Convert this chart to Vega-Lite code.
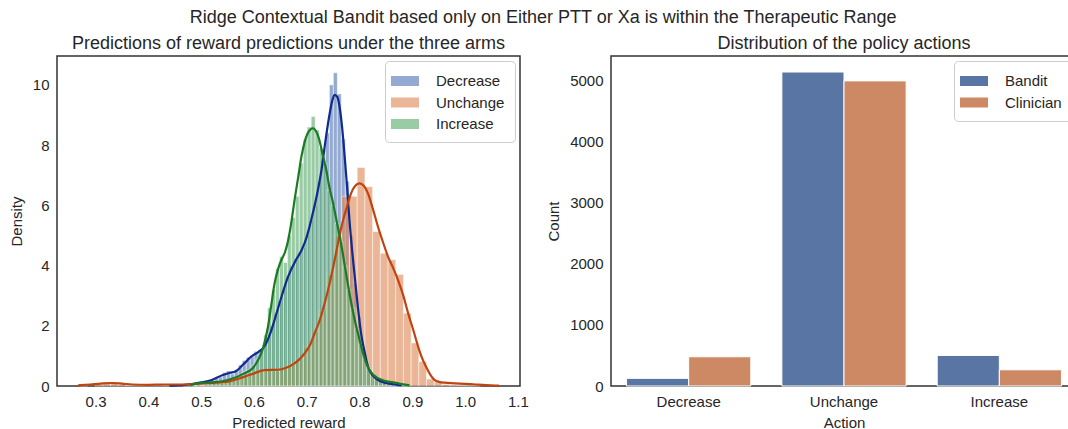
{
"$schema": "https://vega.github.io/schema/vega-lite/v6.json",
"background": "white",
"padding": {"left": 8, "top": 9, "right": 0, "bottom": 0},
"config": {
  "font": "Liberation Sans",
  "view": {"stroke": "#333333", "strokeWidth": 1.5},
  "axis": {"domain": false, "ticks": false, "tickSize": 0, "grid": false, "labelFont": "Liberation Sans", "labelFontSize": 15, "labelColor": "#262626", "titleFont": "Liberation Sans", "titleFontSize": 15, "titleFontWeight": "normal", "titleColor": "#262626", "labelPadding": 8, "titlePadding": 8},
  "axisX": {"titlePadding": 6},
  "title": {"font": "Liberation Sans", "fontSize": 18, "fontWeight": "normal", "color": "#262626"},
  "legend": {"title": null, "orient": "top-right", "offset": 5, "fillColor": "white", "strokeColor": "#cccccc", "cornerRadius": 4, "padding": 10, "symbolType": "M-1.4,-0.5H1.4V0.5H-1.4Z", "symbolSize": 400, "symbolStrokeWidth": 0, "labelFont": "Liberation Sans", "labelFontSize": 15, "labelColor": "#262626", "labelOffset": 21, "rowPadding": 3.5}
},
"title": {"text": "Ridge Contextual Bandit based only on Either PTT or Xa is within the Therapeutic Range", "anchor": "middle", "offset": 7},
"datasets": {
  "hist": [
{"arm":"Decrease","x0":0.4505,"x1":0.4580,"density":0.02},
{"arm":"Decrease","x0":0.4655,"x1":0.4730,"density":0.04},
{"arm":"Decrease","x0":0.4730,"x1":0.4805,"density":0.02},
{"arm":"Decrease","x0":0.4805,"x1":0.4880,"density":0.05},
{"arm":"Decrease","x0":0.4880,"x1":0.4955,"density":0.08},
{"arm":"Decrease","x0":0.4955,"x1":0.5030,"density":0.10},
{"arm":"Decrease","x0":0.5030,"x1":0.5105,"density":0.12},
{"arm":"Decrease","x0":0.5105,"x1":0.5180,"density":0.15},
{"arm":"Decrease","x0":0.5180,"x1":0.5255,"density":0.20},
{"arm":"Decrease","x0":0.5255,"x1":0.5330,"density":0.25},
{"arm":"Decrease","x0":0.5330,"x1":0.5405,"density":0.30},
{"arm":"Decrease","x0":0.5405,"x1":0.5480,"density":0.45},
{"arm":"Decrease","x0":0.5480,"x1":0.5555,"density":0.50},
{"arm":"Decrease","x0":0.5555,"x1":0.5630,"density":0.40},
{"arm":"Decrease","x0":0.5630,"x1":0.5705,"density":0.55},
{"arm":"Decrease","x0":0.5705,"x1":0.5780,"density":0.70},
{"arm":"Decrease","x0":0.5780,"x1":0.5855,"density":0.85},
{"arm":"Decrease","x0":0.5855,"x1":0.5930,"density":0.95},
{"arm":"Decrease","x0":0.5930,"x1":0.6005,"density":1.00},
{"arm":"Decrease","x0":0.6005,"x1":0.6080,"density":1.15},
{"arm":"Decrease","x0":0.6080,"x1":0.6155,"density":1.20},
{"arm":"Decrease","x0":0.6155,"x1":0.6230,"density":1.35},
{"arm":"Decrease","x0":0.6230,"x1":0.6305,"density":1.60},
{"arm":"Decrease","x0":0.6305,"x1":0.6380,"density":2.00},
{"arm":"Decrease","x0":0.6380,"x1":0.6455,"density":2.40},
{"arm":"Decrease","x0":0.6455,"x1":0.6530,"density":2.80},
{"arm":"Decrease","x0":0.6530,"x1":0.6605,"density":3.20},
{"arm":"Decrease","x0":0.6605,"x1":0.6680,"density":3.60},
{"arm":"Decrease","x0":0.6680,"x1":0.6755,"density":4.00},
{"arm":"Decrease","x0":0.6755,"x1":0.6830,"density":4.20},
{"arm":"Decrease","x0":0.6830,"x1":0.6905,"density":4.40},
{"arm":"Decrease","x0":0.6905,"x1":0.6980,"density":4.60},
{"arm":"Decrease","x0":0.6980,"x1":0.7055,"density":5.00},
{"arm":"Decrease","x0":0.7055,"x1":0.7130,"density":5.50},
{"arm":"Decrease","x0":0.7130,"x1":0.7205,"density":6.00},
{"arm":"Decrease","x0":0.7205,"x1":0.7280,"density":6.80},
{"arm":"Decrease","x0":0.7280,"x1":0.7355,"density":7.60},
{"arm":"Decrease","x0":0.7355,"x1":0.7430,"density":8.40},
{"arm":"Decrease","x0":0.7430,"x1":0.7505,"density":10.00},
{"arm":"Decrease","x0":0.7505,"x1":0.7580,"density":10.40},
{"arm":"Decrease","x0":0.7580,"x1":0.7655,"density":9.70},
{"arm":"Decrease","x0":0.7655,"x1":0.7730,"density":8.20},
{"arm":"Decrease","x0":0.7730,"x1":0.7805,"density":6.80},
{"arm":"Decrease","x0":0.7805,"x1":0.7880,"density":5.00},
{"arm":"Decrease","x0":0.7880,"x1":0.7955,"density":3.40},
{"arm":"Decrease","x0":0.7955,"x1":0.8030,"density":2.30},
{"arm":"Decrease","x0":0.8030,"x1":0.8105,"density":1.30},
{"arm":"Decrease","x0":0.8105,"x1":0.8180,"density":0.75},
{"arm":"Decrease","x0":0.8180,"x1":0.8255,"density":0.45},
{"arm":"Decrease","x0":0.8255,"x1":0.8330,"density":0.25},
{"arm":"Decrease","x0":0.8330,"x1":0.8405,"density":0.15},
{"arm":"Decrease","x0":0.8405,"x1":0.8480,"density":0.10},
{"arm":"Decrease","x0":0.8480,"x1":0.8555,"density":0.05},
{"arm":"Decrease","x0":0.8555,"x1":0.8630,"density":0.04},
{"arm":"Decrease","x0":0.8630,"x1":0.8705,"density":0.02},
{"arm":"Unchange","x0":0.2700,"x1":0.2846,"density":0.02},
{"arm":"Unchange","x0":0.2992,"x1":0.3138,"density":0.05},
{"arm":"Unchange","x0":0.3138,"x1":0.3284,"density":0.08},
{"arm":"Unchange","x0":0.3284,"x1":0.3430,"density":0.10},
{"arm":"Unchange","x0":0.3430,"x1":0.3576,"density":0.05},
{"arm":"Unchange","x0":0.3576,"x1":0.3722,"density":0.02},
{"arm":"Unchange","x0":0.3722,"x1":0.3868,"density":0.04},
{"arm":"Unchange","x0":0.3868,"x1":0.4014,"density":0.03},
{"arm":"Unchange","x0":0.4014,"x1":0.4160,"density":0.02},
{"arm":"Unchange","x0":0.4160,"x1":0.4306,"density":0.05},
{"arm":"Unchange","x0":0.4306,"x1":0.4452,"density":0.04},
{"arm":"Unchange","x0":0.4452,"x1":0.4598,"density":0.06},
{"arm":"Unchange","x0":0.4598,"x1":0.4744,"density":0.05},
{"arm":"Unchange","x0":0.4744,"x1":0.4890,"density":0.07},
{"arm":"Unchange","x0":0.4890,"x1":0.5036,"density":0.08},
{"arm":"Unchange","x0":0.5036,"x1":0.5182,"density":0.10},
{"arm":"Unchange","x0":0.5182,"x1":0.5328,"density":0.12},
{"arm":"Unchange","x0":0.5328,"x1":0.5474,"density":0.14},
{"arm":"Unchange","x0":0.5474,"x1":0.5620,"density":0.20},
{"arm":"Unchange","x0":0.5620,"x1":0.5766,"density":0.28},
{"arm":"Unchange","x0":0.5766,"x1":0.5912,"density":0.35},
{"arm":"Unchange","x0":0.5912,"x1":0.6058,"density":0.45},
{"arm":"Unchange","x0":0.6058,"x1":0.6204,"density":0.50},
{"arm":"Unchange","x0":0.6204,"x1":0.6350,"density":0.55},
{"arm":"Unchange","x0":0.6350,"x1":0.6496,"density":0.50},
{"arm":"Unchange","x0":0.6496,"x1":0.6642,"density":0.58},
{"arm":"Unchange","x0":0.6642,"x1":0.6788,"density":0.70},
{"arm":"Unchange","x0":0.6788,"x1":0.6934,"density":0.90},
{"arm":"Unchange","x0":0.6934,"x1":0.7080,"density":1.30},
{"arm":"Unchange","x0":0.7080,"x1":0.7226,"density":1.80},
{"arm":"Unchange","x0":0.7226,"x1":0.7372,"density":2.50},
{"arm":"Unchange","x0":0.7372,"x1":0.7518,"density":3.70},
{"arm":"Unchange","x0":0.7518,"x1":0.7664,"density":5.00},
{"arm":"Unchange","x0":0.7664,"x1":0.7810,"density":6.30},
{"arm":"Unchange","x0":0.7810,"x1":0.7956,"density":6.30},
{"arm":"Unchange","x0":0.7956,"x1":0.8102,"density":7.26},
{"arm":"Unchange","x0":0.8102,"x1":0.8248,"density":6.62},
{"arm":"Unchange","x0":0.8248,"x1":0.8394,"density":5.13},
{"arm":"Unchange","x0":0.8394,"x1":0.8540,"density":4.41},
{"arm":"Unchange","x0":0.8540,"x1":0.8686,"density":4.19},
{"arm":"Unchange","x0":0.8686,"x1":0.8832,"density":3.70},
{"arm":"Unchange","x0":0.8832,"x1":0.8978,"density":2.42},
{"arm":"Unchange","x0":0.8978,"x1":0.9124,"density":1.43},
{"arm":"Unchange","x0":0.9124,"x1":0.9270,"density":0.81},
{"arm":"Unchange","x0":0.9270,"x1":0.9416,"density":0.23},
{"arm":"Unchange","x0":0.9416,"x1":0.9562,"density":0.14},
{"arm":"Unchange","x0":0.9562,"x1":0.9708,"density":0.05},
{"arm":"Unchange","x0":0.9708,"x1":0.9854,"density":0.03},
{"arm":"Unchange","x0":0.9854,"x1":1.0000,"density":0.02},
{"arm":"Unchange","x0":1.0000,"x1":1.0146,"density":0.01},
{"arm":"Unchange","x0":1.0146,"x1":1.0292,"density":0.02},
{"arm":"Increase","x0":0.4835,"x1":0.4910,"density":0.02},
{"arm":"Increase","x0":0.4910,"x1":0.4985,"density":0.05},
{"arm":"Increase","x0":0.4985,"x1":0.5060,"density":0.03},
{"arm":"Increase","x0":0.5060,"x1":0.5135,"density":0.06},
{"arm":"Increase","x0":0.5135,"x1":0.5210,"density":0.08},
{"arm":"Increase","x0":0.5210,"x1":0.5285,"density":0.10},
{"arm":"Increase","x0":0.5285,"x1":0.5360,"density":0.12},
{"arm":"Increase","x0":0.5360,"x1":0.5435,"density":0.10},
{"arm":"Increase","x0":0.5435,"x1":0.5510,"density":0.15},
{"arm":"Increase","x0":0.5510,"x1":0.5585,"density":0.20},
{"arm":"Increase","x0":0.5585,"x1":0.5660,"density":0.25},
{"arm":"Increase","x0":0.5660,"x1":0.5735,"density":0.30},
{"arm":"Increase","x0":0.5735,"x1":0.5810,"density":0.35},
{"arm":"Increase","x0":0.5810,"x1":0.5885,"density":0.50},
{"arm":"Increase","x0":0.5885,"x1":0.5960,"density":0.55},
{"arm":"Increase","x0":0.5960,"x1":0.6035,"density":0.70},
{"arm":"Increase","x0":0.6035,"x1":0.6110,"density":0.90},
{"arm":"Increase","x0":0.6110,"x1":0.6185,"density":1.20},
{"arm":"Increase","x0":0.6185,"x1":0.6260,"density":1.70},
{"arm":"Increase","x0":0.6260,"x1":0.6335,"density":2.60},
{"arm":"Increase","x0":0.6335,"x1":0.6410,"density":3.20},
{"arm":"Increase","x0":0.6410,"x1":0.6485,"density":3.90},
{"arm":"Increase","x0":0.6485,"x1":0.6560,"density":4.30},
{"arm":"Increase","x0":0.6560,"x1":0.6635,"density":4.10},
{"arm":"Increase","x0":0.6635,"x1":0.6710,"density":5.00},
{"arm":"Increase","x0":0.6710,"x1":0.6785,"density":5.60},
{"arm":"Increase","x0":0.6785,"x1":0.6860,"density":6.30},
{"arm":"Increase","x0":0.6860,"x1":0.6935,"density":7.40},
{"arm":"Increase","x0":0.6935,"x1":0.7010,"density":8.20},
{"arm":"Increase","x0":0.7010,"x1":0.7085,"density":8.60},
{"arm":"Increase","x0":0.7085,"x1":0.7160,"density":8.95},
{"arm":"Increase","x0":0.7160,"x1":0.7235,"density":8.50},
{"arm":"Increase","x0":0.7235,"x1":0.7310,"density":7.90},
{"arm":"Increase","x0":0.7310,"x1":0.7385,"density":7.40},
{"arm":"Increase","x0":0.7385,"x1":0.7460,"density":6.50},
{"arm":"Increase","x0":0.7460,"x1":0.7535,"density":6.00},
{"arm":"Increase","x0":0.7535,"x1":0.7610,"density":5.40},
{"arm":"Increase","x0":0.7610,"x1":0.7685,"density":4.80},
{"arm":"Increase","x0":0.7685,"x1":0.7760,"density":4.00},
{"arm":"Increase","x0":0.7760,"x1":0.7835,"density":3.20},
{"arm":"Increase","x0":0.7835,"x1":0.7910,"density":2.60},
{"arm":"Increase","x0":0.7910,"x1":0.7985,"density":1.90},
{"arm":"Increase","x0":0.7985,"x1":0.8060,"density":1.40},
{"arm":"Increase","x0":0.8060,"x1":0.8135,"density":0.90},
{"arm":"Increase","x0":0.8135,"x1":0.8210,"density":0.60},
{"arm":"Increase","x0":0.8210,"x1":0.8285,"density":0.40},
{"arm":"Increase","x0":0.8285,"x1":0.8360,"density":0.30},
{"arm":"Increase","x0":0.8360,"x1":0.8435,"density":0.20},
{"arm":"Increase","x0":0.8435,"x1":0.8510,"density":0.15},
{"arm":"Increase","x0":0.8510,"x1":0.8585,"density":0.12},
{"arm":"Increase","x0":0.8585,"x1":0.8660,"density":0.10},
{"arm":"Increase","x0":0.8660,"x1":0.8735,"density":0.06},
{"arm":"Increase","x0":0.8735,"x1":0.8810,"density":0.04},
{"arm":"Increase","x0":0.8810,"x1":0.8885,"density":0.03},
{"arm":"Increase","x0":0.8885,"x1":0.8960,"density":0.02}
  ],
  "kde": [
{"arm":"Decrease","v":0.44,"d":0.01},{"arm":"Decrease","v":0.47,"d":0.04},{"arm":"Decrease","v":0.50,"d":0.12},{"arm":"Decrease","v":0.52,"d":0.20},{"arm":"Decrease","v":0.54,"d":0.36},{"arm":"Decrease","v":0.555,"d":0.44},{"arm":"Decrease","v":0.565,"d":0.48},{"arm":"Decrease","v":0.58,"d":0.72},{"arm":"Decrease","v":0.595,"d":0.98},{"arm":"Decrease","v":0.61,"d":1.15},{"arm":"Decrease","v":0.62,"d":1.32},{"arm":"Decrease","v":0.632,"d":1.8},{"arm":"Decrease","v":0.646,"d":2.6},{"arm":"Decrease","v":0.664,"d":3.6},{"arm":"Decrease","v":0.68,"d":4.2},{"arm":"Decrease","v":0.69,"d":4.5},{"arm":"Decrease","v":0.70,"d":4.95},{"arm":"Decrease","v":0.709,"d":5.55},{"arm":"Decrease","v":0.72,"d":6.4},{"arm":"Decrease","v":0.728,"d":7.18},{"arm":"Decrease","v":0.736,"d":8.2},{"arm":"Decrease","v":0.743,"d":9.0},{"arm":"Decrease","v":0.748,"d":9.45},{"arm":"Decrease","v":0.753,"d":9.67},{"arm":"Decrease","v":0.758,"d":9.6},{"arm":"Decrease","v":0.762,"d":9.3},{"arm":"Decrease","v":0.767,"d":8.6},{"arm":"Decrease","v":0.772,"d":7.6},{"arm":"Decrease","v":0.777,"d":6.5},{"arm":"Decrease","v":0.781,"d":5.5},{"arm":"Decrease","v":0.786,"d":4.5},{"arm":"Decrease","v":0.791,"d":3.63},{"arm":"Decrease","v":0.797,"d":2.6},{"arm":"Decrease","v":0.803,"d":1.75},{"arm":"Decrease","v":0.81,"d":1.1},{"arm":"Decrease","v":0.816,"d":0.64},{"arm":"Decrease","v":0.825,"d":0.35},{"arm":"Decrease","v":0.835,"d":0.2},{"arm":"Decrease","v":0.85,"d":0.1},{"arm":"Decrease","v":0.867,"d":0.05},{"arm":"Decrease","v":0.88,"d":0.02},
{"arm":"Unchange","v":0.267,"d":0.02},{"arm":"Unchange","v":0.29,"d":0.05},{"arm":"Unchange","v":0.31,"d":0.08},{"arm":"Unchange","v":0.33,"d":0.1},{"arm":"Unchange","v":0.35,"d":0.08},{"arm":"Unchange","v":0.37,"d":0.05},{"arm":"Unchange","v":0.40,"d":0.04},{"arm":"Unchange","v":0.43,"d":0.05},{"arm":"Unchange","v":0.46,"d":0.05},{"arm":"Unchange","v":0.49,"d":0.07},{"arm":"Unchange","v":0.52,"d":0.1},{"arm":"Unchange","v":0.551,"d":0.14},{"arm":"Unchange","v":0.582,"d":0.31},{"arm":"Unchange","v":0.60,"d":0.42},{"arm":"Unchange","v":0.62,"d":0.53},{"arm":"Unchange","v":0.646,"d":0.54},{"arm":"Unchange","v":0.66,"d":0.6},{"arm":"Unchange","v":0.677,"d":0.75},{"arm":"Unchange","v":0.696,"d":1.08},{"arm":"Unchange","v":0.706,"d":1.35},{"arm":"Unchange","v":0.715,"d":1.75},{"arm":"Unchange","v":0.725,"d":2.2},{"arm":"Unchange","v":0.734,"d":2.75},{"arm":"Unchange","v":0.744,"d":3.45},{"arm":"Unchange","v":0.753,"d":4.19},{"arm":"Unchange","v":0.761,"d":4.9},{"arm":"Unchange","v":0.769,"d":5.51},{"arm":"Unchange","v":0.777,"d":6.0},{"arm":"Unchange","v":0.784,"d":6.4},{"arm":"Unchange","v":0.792,"d":6.65},{"arm":"Unchange","v":0.800,"d":6.73},{"arm":"Unchange","v":0.808,"d":6.65},{"arm":"Unchange","v":0.816,"d":6.4},{"arm":"Unchange","v":0.825,"d":5.9},{"arm":"Unchange","v":0.835,"d":5.29},{"arm":"Unchange","v":0.845,"d":4.75},{"arm":"Unchange","v":0.854,"d":4.3},{"arm":"Unchange","v":0.863,"d":3.95},{"arm":"Unchange","v":0.873,"d":3.52},{"arm":"Unchange","v":0.883,"d":3.0},{"arm":"Unchange","v":0.892,"d":2.42},{"arm":"Unchange","v":0.902,"d":1.85},{"arm":"Unchange","v":0.911,"d":1.31},{"arm":"Unchange","v":0.918,"d":0.95},{"arm":"Unchange","v":0.926,"d":0.64},{"arm":"Unchange","v":0.934,"d":0.38},{"arm":"Unchange","v":0.942,"d":0.2},{"arm":"Unchange","v":0.952,"d":0.13},{"arm":"Unchange","v":0.961,"d":0.11},{"arm":"Unchange","v":0.98,"d":0.09},{"arm":"Unchange","v":1.0,"d":0.07},{"arm":"Unchange","v":1.02,"d":0.05},{"arm":"Unchange","v":1.04,"d":0.03},{"arm":"Unchange","v":1.064,"d":0.01},
{"arm":"Increase","v":0.48,"d":0.03},{"arm":"Increase","v":0.494,"d":0.09},{"arm":"Increase","v":0.52,"d":0.12},{"arm":"Increase","v":0.551,"d":0.2},{"arm":"Increase","v":0.582,"d":0.42},{"arm":"Increase","v":0.598,"d":0.6},{"arm":"Increase","v":0.608,"d":0.86},{"arm":"Increase","v":0.618,"d":1.3},{"arm":"Increase","v":0.627,"d":2.0},{"arm":"Increase","v":0.633,"d":2.7},{"arm":"Increase","v":0.639,"d":3.4},{"arm":"Increase","v":0.646,"d":3.9},{"arm":"Increase","v":0.652,"d":4.19},{"arm":"Increase","v":0.659,"d":4.45},{"arm":"Increase","v":0.665,"d":4.85},{"arm":"Increase","v":0.671,"d":5.45},{"arm":"Increase","v":0.677,"d":6.18},{"arm":"Increase","v":0.684,"d":6.95},{"arm":"Increase","v":0.690,"d":7.62},{"arm":"Increase","v":0.696,"d":8.1},{"arm":"Increase","v":0.702,"d":8.4},{"arm":"Increase","v":0.707,"d":8.52},{"arm":"Increase","v":0.712,"d":8.56},{"arm":"Increase","v":0.718,"d":8.45},{"arm":"Increase","v":0.724,"d":8.17},{"arm":"Increase","v":0.730,"d":7.7},{"arm":"Increase","v":0.737,"d":7.18},{"arm":"Increase","v":0.743,"d":6.6},{"arm":"Increase","v":0.750,"d":6.07},{"arm":"Increase","v":0.757,"d":5.45},{"arm":"Increase","v":0.765,"d":4.74},{"arm":"Increase","v":0.773,"d":3.9},{"arm":"Increase","v":0.781,"d":3.08},{"arm":"Increase","v":0.789,"d":2.35},{"arm":"Increase","v":0.797,"d":1.75},{"arm":"Increase","v":0.805,"d":1.2},{"arm":"Increase","v":0.813,"d":0.75},{"arm":"Increase","v":0.822,"d":0.45},{"arm":"Increase","v":0.835,"d":0.26},{"arm":"Increase","v":0.85,"d":0.16},{"arm":"Increase","v":0.867,"d":0.11},{"arm":"Increase","v":0.88,"d":0.06},{"arm":"Increase","v":0.895,"d":0.02}
  ],
  "actions": [
{"action":"Decrease","policy":"Bandit","count":125},
{"action":"Decrease","policy":"Clinician","count":478},
{"action":"Unchange","policy":"Bandit","count":5135},
{"action":"Unchange","policy":"Clinician","count":4990},
{"action":"Increase","policy":"Bandit","count":500},
{"action":"Increase","policy":"Clinician","count":265}
  ]
},
"spacing": 91,
"bounds": "flush",
"resolve": {"scale": {"color": "independent"}, "legend": {"color": "independent"}},
"hconcat": [
  {
    "width": 463, "height": 330,
    "title": {"text": "Predictions of reward predictions under the three arms", "anchor": "middle", "offset": 3},
    "layer": [
      {
        "data": {"name": "hist"},
        "mark": {"type": "rect", "fillOpacity": 0.6, "stroke": "white", "strokeWidth": 0.8, "strokeOpacity": 0.6},
        "encoding": {
          "x": {"field": "x0", "type": "quantitative", "title": "Predicted reward", "scale": {"domain": [0.227, 1.104], "nice": false, "zero": false}, "axis": {"values": [0.3,0.4,0.5,0.6,0.7,0.8,0.9,1.0,1.1], "format": ".1f"}},
          "x2": {"field": "x1"},
          "y": {"field": "density", "type": "quantitative", "title": "Density", "scale": {"domain": [0, 10.96], "nice": false}, "axis": {"values": [0,2,4,6,8,10]}},
          "color": {"field": "arm", "type": "nominal", "scale": {"domain": ["Decrease","Unchange","Increase"], "range": ["#4c72b0","#dd8452","#55a868"]}, "legend": {"symbolOpacity": 0.6}}
        }
      },
      {
        "data": {"name": "kde"},
        "transform": [{"filter": "datum.arm === 'Decrease'"}],
        "mark": {"type": "line", "color": "#102a8f", "strokeWidth": 2.2, "interpolate": "monotone"},
        "encoding": {"x": {"field": "v", "type": "quantitative", "title": "Predicted reward"}, "y": {"field": "d", "type": "quantitative", "title": "Density"}}
      },
      {
        "data": {"name": "kde"},
        "transform": [{"filter": "datum.arm === 'Unchange'"}],
        "mark": {"type": "line", "color": "#c0440f", "strokeWidth": 2.2, "interpolate": "monotone"},
        "encoding": {"x": {"field": "v", "type": "quantitative", "title": "Predicted reward"}, "y": {"field": "d", "type": "quantitative", "title": "Density"}}
      },
      {
        "data": {"name": "kde"},
        "transform": [{"filter": "datum.arm === 'Increase'"}],
        "mark": {"type": "line", "color": "#1b7a24", "strokeWidth": 2.2, "interpolate": "monotone"},
        "encoding": {"x": {"field": "v", "type": "quantitative", "title": "Predicted reward"}, "y": {"field": "d", "type": "quantitative", "title": "Density"}}
      }
    ]
  },
  {
    "width": 466, "height": 330,
    "title": {"text": "Distribution of the policy actions", "anchor": "middle", "offset": 3},
    "data": {"name": "actions"},
    "mark": {"type": "bar", "stroke": "white", "strokeWidth": 1},
    "encoding": {
      "x": {"field": "action", "type": "nominal", "title": "Action", "sort": ["Decrease","Unchange","Increase"], "scale": {"paddingInner": 0.2, "paddingOuter": 0.1}, "axis": {"labelAngle": 0}},
      "xOffset": {"field": "policy", "type": "nominal", "sort": ["Bandit","Clinician"], "scale": {"paddingInner": 0, "paddingOuter": 0}},
      "y": {"field": "count", "type": "quantitative", "title": "Count", "scale": {"domain": [0, 5397], "nice": false}, "axis": {"values": [0,1000,2000,3000,4000,5000], "format": "d"}},
      "color": {"field": "policy", "type": "nominal", "scale": {"domain": ["Bandit","Clinician"], "range": ["#5975a4","#cc8963"]}, "legend": {"symbolOpacity": 1}}
    }
  }
]
}
